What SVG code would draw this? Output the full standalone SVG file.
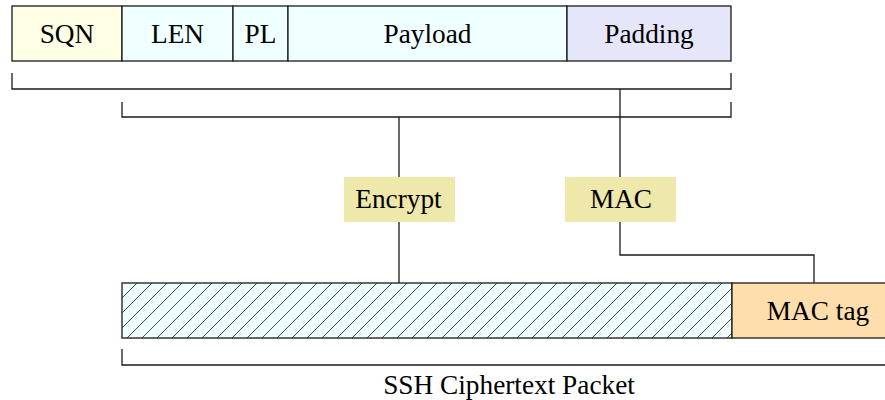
<svg xmlns="http://www.w3.org/2000/svg" width="885" height="400" viewBox="0 0 885 400">
<style>
.box{stroke:#1a1a1a;stroke-width:1.3}
.ln{fill:none;stroke:#1a1a1a;stroke-width:1.3}
text{font-family:"Liberation Serif","Times New Roman",serif;font-size:27.3px;fill:#000;text-anchor:middle}
</style>
<defs>
<pattern id="hatch" patternUnits="userSpaceOnUse" width="15" height="15" patternTransform="translate(122,283)">
<rect width="15" height="15" fill="#F0FFFF"/>
<path d="M-1,16 L16,-1 M-4,4 L4,-4 M11,19 L19,11" stroke="#1a1a1a" stroke-width="0.8"/>
</pattern>
</defs>
<rect width="885" height="400" fill="#fff"/>
<g id="sqn"><rect class="box" x="12" y="6" width="110" height="55" fill="#FFFFE6"/><text x="67" y="43">SQN</text></g>
<g id="len"><rect class="box" x="122" y="6" width="111" height="55" fill="#F0FFFF"/><text x="177.5" y="43">LEN</text></g>
<g id="pl"><rect class="box" x="233" y="6" width="55" height="55" fill="#F0FFFF"/><text x="260.5" y="43">PL</text></g>
<g id="payload"><rect class="box" x="288" y="6" width="279" height="55" fill="#F0FFFF"/><text x="427.5" y="43">Payload</text></g>
<g id="padding"><rect class="box" x="567" y="6" width="164" height="55" fill="#E6E6FA"/><text x="649" y="43">Padding</text></g>
<g id="encrypt"><rect x="344" y="177" width="111" height="45" fill="#EEE8AA"/><text x="398.5" y="208">Encrypt</text></g>
<g id="mac"><rect x="565" y="177" width="111" height="45" fill="#EEE8AA"/><text x="621" y="208">MAC</text></g>
<g id="ciphertext"><rect class="box" x="122" y="283" width="610" height="55" fill="url(#hatch)"/></g>
<g id="mactag"><rect class="box" x="732" y="283" width="160" height="55" fill="#FFDEAD"/><text x="818" y="320">MAC tag</text></g>
<g id="connectors">
<path class="ln" d="M12,73 V89 H731 V73"/>
<path class="ln" d="M122,102 V117 H731 V102"/>
<path class="ln" d="M620,89 V177"/>
<path class="ln" d="M399,117 V177"/>
<path class="ln" d="M399,222 V283"/>
<path class="ln" d="M620,222 V255 H814 V283"/>
<path class="ln" d="M122,349 V365 H885"/>
</g>
<g id="label"><text x="509" y="394">SSH Ciphertext Packet</text></g>
</svg>
